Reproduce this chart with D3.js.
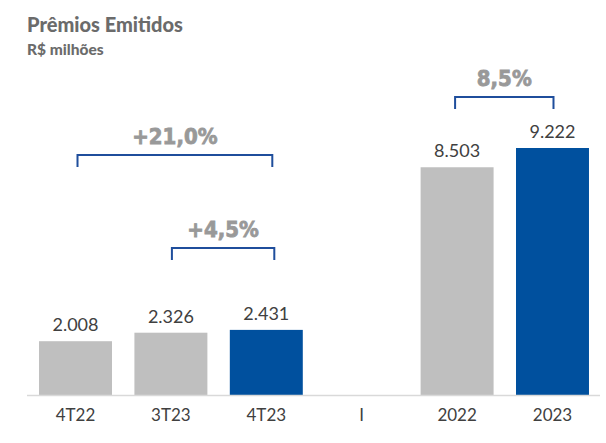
<!DOCTYPE html>
<html>
<head>
<meta charset="utf-8">
<title>Prêmios Emitidos</title>
<script src="https://cdn.jsdelivr.net/npm/d3@7"></script>
<style>
  body { margin: 0; background: #fff; }
</style>
</head>
<body>
<div id="chart"></div>
<script>
// data
var categories = ["4T22", "3T23", "4T23", "I", "2022", "2023"];
var values = [2008, 2326, 2431, null, 8503, 9222];
var valueLabels = ["2.008", "2.326", "2.431", "", "8.503", "9.222"];
var highlighted = ["4T23", "2023"];
// growth brackets: from / to category and text
var growthFrom = ["4T22", "3T23", "2022"];
var growthTo = ["4T23", "4T23", "2023"];
var growthText = ["+21,0%", "+4,5%", "8,5%"];

var W = 606, H = 443;
var baseY = 395;
var mainFont = "Lato, 'Noto Sans', sans-serif";

var svg = d3.select("#chart").append("svg")
    .attr("width", W)
    .attr("height", H);

// title
svg.append("text")
    .attr("x", 27).attr("y", 32)
    .style("font-family", mainFont)
    .style("font-weight", "900")
    .style("font-size", "20px")
    .attr("fill", "#6b6b6b")
    .text("Prêmios Emitidos");
svg.append("text")
    .attr("x", 27).attr("y", 55)
    .style("font-family", mainFont)
    .style("font-weight", "900")
    .style("font-size", "15.5px")
    .attr("fill", "#6b6b6b")
    .text("R$ milhões");

// scales
var x = d3.scaleBand()
    .domain(categories)
    .range([28, 600])
    .paddingInner(0.235)
    .paddingOuter(0.1155);

var y = d3.scaleLinear()
    .domain([0, 9222])
    .range([baseY, 148]);

var data = categories.map(function(c, i) {
    return {cat: c, v: values[i], label: valueLabels[i]};
});
var bars = data.filter(function(d) { return d.v != null; });

// bars
svg.selectAll("rect.bar")
    .data(bars)
    .enter()
    .append("rect")
    .attr("class", "bar")
    .attr("x", function(d) { return x(d.cat); })
    .attr("width", x.bandwidth())
    .attr("y", function(d) { return y(d.v); })
    .attr("height", function(d) { return baseY - y(d.v); })
    .attr("fill", function(d) { return highlighted.indexOf(d.cat) >= 0 ? "#00509e" : "#bfbfbf"; });

// value labels
svg.selectAll("text.val")
    .data(bars)
    .enter()
    .append("text")
    .attr("class", "val")
    .attr("x", function(d) { return x(d.cat) + x.bandwidth() / 2; })
    .attr("y", function(d) { return y(d.v) - 10; })
    .attr("text-anchor", "middle")
    .style("font-family", mainFont)
    .style("font-size", "18px")
    .attr("fill", "#404040")
    .text(function(d) { return d.label; });

// x axis
var xAxis = d3.axisBottom(x).tickSize(0).tickPadding(14);
var gx = svg.append("g")
    .attr("transform", "translate(0," + baseY + ")")
    .call(xAxis);
gx.select(".domain")
    .attr("d", "M27,0.5H600")
    .attr("stroke", "#d9d9d9")
    .attr("stroke-width", 1.5);
gx.selectAll(".tick text")
    .style("font-family", mainFont)
    .style("font-size", "17px")
    .attr("fill", "#404040");

// growth brackets
var bracketTop = [155, 248, 97];
var bracketDrop = 12;
var cx = function(c) { return x(c) + x.bandwidth() / 2; };

growthText.forEach(function(t, i) {
    var x1 = cx(growthFrom[i]) + 2;
    var x2 = cx(growthTo[i]) + 6;
    if (i == 1) { x1 = cx(growthFrom[i]) + 1; x2 = cx(growthTo[i]) + 8; }
    if (i == 2) { x1 = cx(growthFrom[i]) - 2; x2 = cx(growthTo[i]) + 1; }
    var yt = bracketTop[i];
    svg.append("path")
        .attr("d", "M" + x1 + "," + (yt + bracketDrop) + "V" + yt + "H" + x2 + "V" + (yt + bracketDrop))
        .attr("fill", "none")
        .attr("stroke", "#1f4e9c")
        .attr("stroke-width", 2);
    // heavier, condensed look for the growth figures
    svg.append("text")
        .attr("x", (x1 + x2) / 2)
        .attr("y", yt - 11)
        .attr("text-anchor", "middle")
        .style("font-family", "'DejaVu Sans Condensed', 'DejaVu Sans', sans-serif")
        .style("font-weight", "bold")
        .style("font-size", "22px")
        .attr("fill", "#999999")
        .attr("stroke", "#999999")
        .attr("stroke-width", 0.8)
        .text(t);
});
</script>
</body>
</html>
